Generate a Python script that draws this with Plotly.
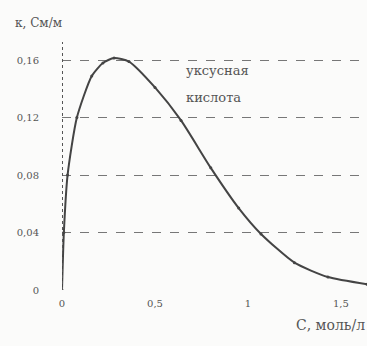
import plotly.graph_objects as go

# Conductivity of acetic acid vs concentration
conc = [0.0, 0.01, 0.03, 0.08, 0.16, 0.22, 0.28, 0.36, 0.50, 0.64, 0.80, 0.95, 1.07, 1.25, 1.43, 1.64]
kappa = [0.0, 0.040, 0.080, 0.120, 0.149, 0.158, 0.1615, 0.159, 0.141, 0.118, 0.085, 0.057, 0.039, 0.019, 0.009, 0.004]

x_ticks = [0, 0.5, 1, 1.5]
x_labels = ["0", "0,5", "1", "1,5"]
y_ticks = [0, 0.04, 0.08, 0.12, 0.16]
y_labels = ["0", "0,04", "0,08", "0,12", "0,16"]

ink = "#444"
font = dict(family="DejaVu Serif", size=10, color="#555")
title_font = dict(family="DejaVu Serif", size=12, color="#555")

fig = go.Figure()
fig.add_trace(go.Scatter(
    x=conc, y=kappa, mode="lines+markers",
    line=dict(color=ink, width=2, shape="spline", smoothing=0.6),
    marker=dict(size=3, color=ink),
    showlegend=False, hoverinfo="skip",
))

fig.update_layout(
    width=367, height=346,
    margin=dict(l=62, r=0, t=42, b=56),
    paper_bgcolor="#fbfbfa", plot_bgcolor="#fbfbfa",
    font=font,
    xaxis=dict(range=[0, 1.64], tickvals=x_ticks, ticktext=x_labels,
               showgrid=False, zeroline=False, showline=False,
               ticks="", ticklabelstandoff=6, tickfont=font),
    yaxis=dict(range=[0, 0.1726], tickvals=y_ticks, ticktext=y_labels,
               showgrid=True, griddash="dash", gridcolor="#777", gridwidth=1,
               zeroline=False, showline=False, ticks="",
               ticklabelstandoff=22, tickfont=font),
    shapes=[dict(type="line", xref="x", yref="paper", x0=0, x1=0, y0=0, y1=1,
                 line=dict(color="#555", width=2, dash="dot"))],
    annotations=[
        dict(text="κ, См/м", xref="paper", yref="paper", x=-0.16, y=1.04,
             xanchor="left", yanchor="bottom", showarrow=False, font=title_font),
        dict(text="С, моль/л", xref="paper", yref="paper", x=1.0, y=-0.1,
             xanchor="right", yanchor="top", showarrow=False,
             font=dict(family="DejaVu Serif", size=14, color="#555")),
        dict(text="уксусная", xref="x", yref="y", x=0.655, y=0.153,
             xanchor="left", yanchor="middle", showarrow=False,
             font=dict(family="DejaVu Serif", size=13, color="#555")),
        dict(text="кислота", xref="x", yref="y", x=0.655, y=0.134,
             xanchor="left", yanchor="middle", showarrow=False,
             font=dict(family="DejaVu Serif", size=13, color="#555")),
    ],
)

fig.write_html("out.html")
